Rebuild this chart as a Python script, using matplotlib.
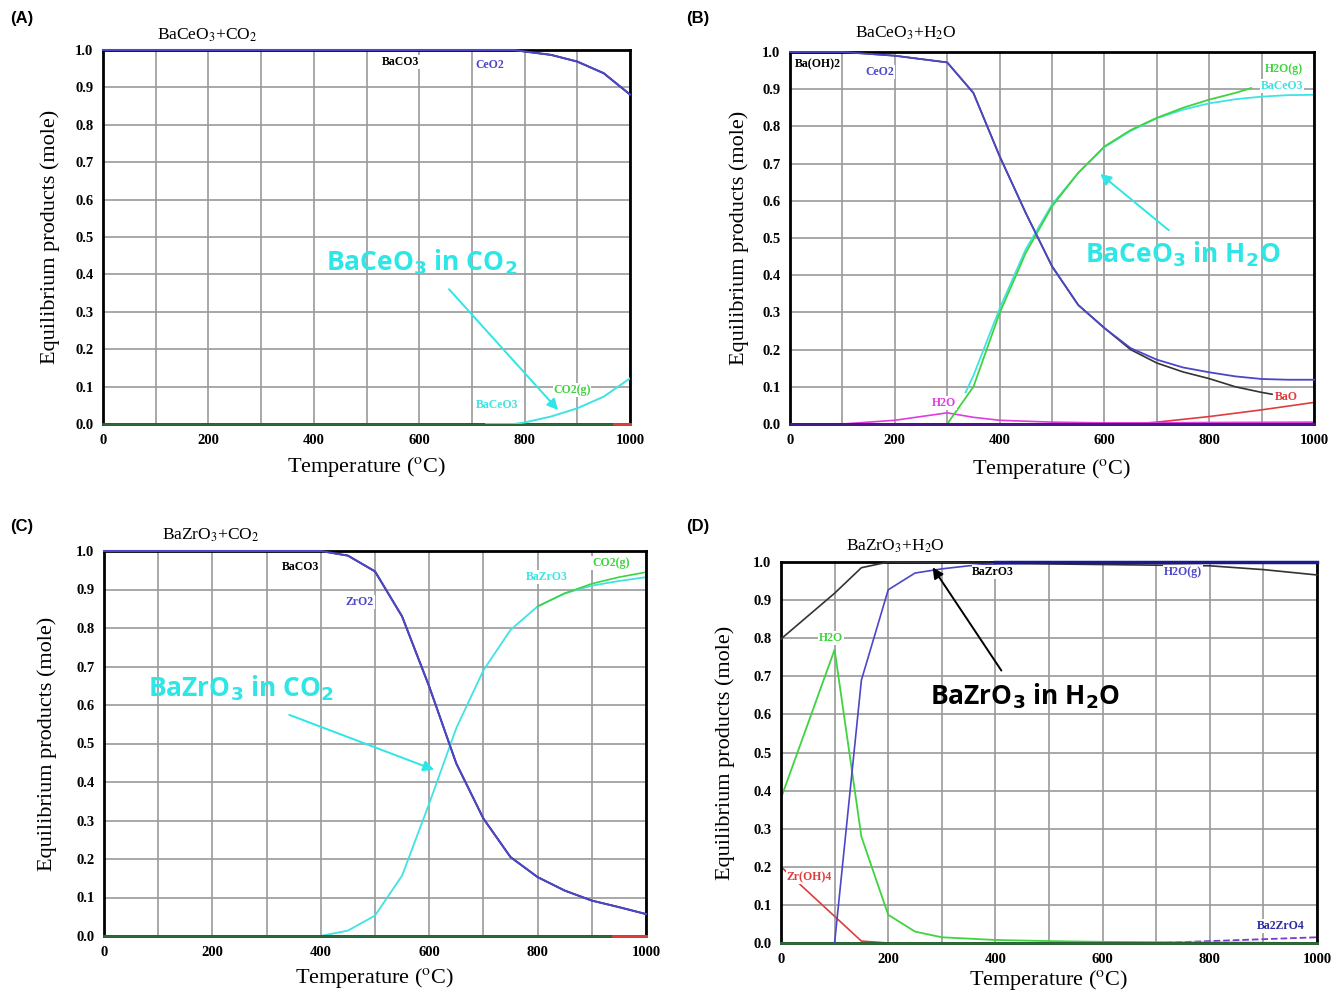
import matplotlib
matplotlib.use("Agg")
import matplotlib.pyplot as plt

plt.rcParams['font.family'] = 'Liberation Serif'

BLUE = '#4c46c8'
CYAN = '#3fe3e3'
GREEN = '#3fd43f'
RED = '#e03c3c'
MAG = '#e03ce0'
BASE = '#2e6b3a'
NOTE = '#2ee6e6'

# (A) BaCeO3 + CO2
a_ceo2_T = [0, 700, 780, 800, 850, 900, 950, 1000]
a_ceo2 = [1.0, 1.0, 1.0, 0.996, 0.987, 0.969, 0.938, 0.881]
a_baceo3_T = [727, 780, 800, 850, 900, 950, 1000]
a_baceo3 = [0.0, 0.0, 0.004, 0.02, 0.042, 0.073, 0.122]
a_red_T = [970, 1000]

# (B) BaCeO3 + H2O
b_ceo2_T = [0, 100, 200, 300, 350, 400, 450, 500, 550, 600, 650, 700, 750, 800, 850, 900, 950, 1000]
b_ceo2 = [1.0, 1.0, 0.99, 0.972, 0.89, 0.72, 0.567, 0.424, 0.32, 0.258, 0.204, 0.173, 0.152, 0.139, 0.128, 0.121, 0.119, 0.119]
b_baoh_T = [0, 100, 200, 300, 350, 400, 450, 500, 550, 600, 650, 700, 750, 800, 850, 900, 920]
b_baoh = [1.0, 1.0, 0.99, 0.972, 0.89, 0.72, 0.567, 0.424, 0.32, 0.258, 0.2, 0.164, 0.14, 0.122, 0.1, 0.085, 0.08]
b_h2og_T = [300, 350, 400, 450, 500, 550, 600, 650, 700, 750, 800, 850, 880]
b_h2og = [0.0, 0.1, 0.298, 0.46, 0.585, 0.675, 0.746, 0.79, 0.823, 0.85, 0.872, 0.89, 0.903]
b_baceo3_T = [335, 350, 400, 450, 500, 550, 600, 650, 700, 750, 800, 850, 900, 950, 1000]
b_baceo3 = [0.085, 0.13, 0.31, 0.47, 0.59, 0.675, 0.744, 0.788, 0.822, 0.845, 0.862, 0.873, 0.88, 0.884, 0.885]
b_h2o_T = [100, 200, 300, 350, 400, 500, 600, 700, 800, 1000]
b_h2o = [0.0, 0.01, 0.03, 0.018, 0.01, 0.005, 0.003, 0.003, 0.004, 0.005]
b_bao_T = [650, 700, 800, 900, 1000]
b_bao = [0.0, 0.005, 0.02, 0.038, 0.058]

# (C) BaZrO3 + CO2
c_zro2_T = [0, 400, 450, 500, 550, 600, 650, 700, 750, 800, 850, 900, 950, 1000]
c_zro2 = [1.0, 1.0, 0.988, 0.947, 0.83, 0.648, 0.448, 0.305, 0.205, 0.153, 0.118, 0.092, 0.075, 0.057]
c_bazro3_T = [400, 450, 500, 550, 600, 650, 700, 750, 800, 850, 900, 950, 1000]
c_bazro3 = [0.0, 0.014, 0.053, 0.157, 0.344, 0.54, 0.69, 0.795, 0.856, 0.89, 0.91, 0.922, 0.932]
c_co2g_T = [800, 850, 900, 950, 1000]
c_co2g = [0.856, 0.89, 0.915, 0.932, 0.945]
c_red_T = [940, 1000]

# (D) BaZrO3 + H2O
d_bazro3_T = [0, 100, 150, 200, 800, 900, 1000]
d_bazro3 = [0.798, 0.918, 0.985, 1.0, 0.99, 0.98, 0.966]
d_h2og_T = [100, 150, 200, 250, 300, 350, 400, 500, 1000]
d_h2og = [0.0, 0.69, 0.927, 0.971, 0.982, 0.99, 0.995, 0.998, 1.0]
d_h2o_T = [0, 100, 150, 200, 250, 300, 400, 500, 600, 1000]
d_h2o = [0.38, 0.77, 0.279, 0.074, 0.03, 0.015, 0.008, 0.005, 0.003, 0.0]
d_zroh_T = [0, 150, 200]
d_zroh = [0.2, 0.005, 0.0]
d_ba2zro4_T = [700, 800, 900, 1000]
d_ba2zro4 = [0.0, 0.005, 0.01, 0.015]

W, H = 1335, 993
fig = plt.figure(figsize=(W / 100, H / 100), dpi=100)


def px_axes(x0, x1, ytop, ybot):
    return fig.add_axes([x0 / W, 1 - ybot / H, (x1 - x0) / W, (ybot - ytop) / H])


def setup(ax, ylab_x, xlab_y):
    ax.set_xlim(0, 1000)
    ax.set_ylim(0, 1.0)
    ax.set_xticks(range(0, 1001, 100))
    ax.set_xticklabels([str(v) if v % 200 == 0 else '' for v in range(0, 1001, 100)])
    ax.set_yticks([i / 10 for i in range(11)])
    ax.set_yticklabels(['%.1f' % (i / 10) for i in range(11)])
    ax.grid(True, color='#9a9a9a', lw=1.2)
    ax.set_axisbelow(True)
    ax.tick_params(length=0, pad=7, labelsize=10.5)
    for t in ax.get_xticklabels() + ax.get_yticklabels():
        t.set_fontweight('bold')
    for s in ax.spines.values():
        s.set_linewidth(2)
    ax.set_ylabel('Equilibrium products (mole)', fontsize=16)
    ax.set_xlabel(r'Temperature ($^{\rm o}$C)', fontsize=16, math_fontfamily='stix')
    ax.yaxis.set_label_coords(ylab_x, 0.5)
    ax.xaxis.set_label_coords(0.5, xlab_y)


def lab(ax, x, y, s, c):
    ax.text(x, y, s, color=c, fontsize=8.5, fontweight='bold', ha='center', va='center',
            bbox=dict(fc='white', ec='none', pad=0.5), zorder=5)


def note(ax, txt, xy_text, xy_tail, xy_head, c, fam='Open Sans'):
    ax.text(xy_text[0], xy_text[1], txt, color=c, fontsize=19, fontfamily=fam,
            fontweight='bold', ha='center', va='center', math_fontfamily='dejavusans', zorder=6)
    ax.annotate('', xy=xy_head, xytext=xy_tail,
                arrowprops=dict(arrowstyle='-|>', color=c, lw=1.4, mutation_scale=16), zorder=6)


# ---- (A)
ax = px_axes(103, 630, 50, 424)
setup(ax, -0.082, -0.083)
ax.plot([0, 1000], [0, 0], color=BASE, lw=2, clip_on=False, zorder=4)
ax.plot(a_red_T, [0, 0], color=RED, lw=2, clip_on=False, zorder=4)
ax.plot(a_ceo2_T, a_ceo2, color='black', lw=1.2)
ax.plot(a_ceo2_T, a_ceo2, color=BLUE, lw=1.5, clip_on=False, zorder=4)
ax.plot(a_baceo3_T, a_baceo3, color=CYAN, lw=1.4, zorder=4)
lab(ax, 564, 0.968, 'BaCO3', 'black')
lab(ax, 734, 0.96, 'CeO2', BLUE)
lab(ax, 890, 0.091, 'CO2(g)', GREEN)
lab(ax, 748, 0.051, 'BaCeO3', CYAN)
note(ax, r'BaCeO$_\mathbf{3}$ in CO$_\mathbf{2}$', (605, 0.433), (653, 0.366), (867, 0.032), NOTE)
fig.text(157 / W, 1 - 35 / H, r'BaCeO$_3$+CO$_2$', fontsize=12.5, va='center', math_fontfamily='stix')
fig.text(10 / W, 1 - 18 / H, '(A)', fontsize=12, fontweight='bold', fontfamily='Liberation Sans', va='center')

# ---- (B)
ax = px_axes(790, 1314, 52, 424)
setup(ax, -0.078, -0.088)
ax.plot([0, 1000], [0, 0], color='#4a1a8a', lw=2, clip_on=False, zorder=4)
ax.plot(b_bao_T, b_bao, color=RED, lw=1.2)
ax.plot(b_h2o_T, b_h2o, color=MAG, lw=1.2)
ax.plot(b_baoh_T, b_baoh, color='#333333', lw=1.2)
ax.plot(b_ceo2_T, b_ceo2, color=BLUE, lw=1.3, clip_on=False, zorder=4)
ax.plot(b_baceo3_T, b_baceo3, color=CYAN, lw=1.3)
ax.plot(b_h2og_T, b_h2og, color=GREEN, lw=1.3)
lab(ax, 53, 0.968, 'Ba(OH)2', 'black')
lab(ax, 172, 0.946, 'CeO2', BLUE)
lab(ax, 943, 0.954, 'H2O(g)', GREEN)
lab(ax, 939, 0.909, 'BaCeO3', CYAN)
lab(ax, 294, 0.056, 'H2O', MAG)
lab(ax, 947, 0.073, 'BaO', RED)
note(ax, r'BaCeO$_\mathbf{3}$ in H$_\mathbf{2}$O', (750, 0.457), (727, 0.516), (588, 0.677), NOTE)
fig.text(855 / W, 1 - 33 / H, r'BaCeO$_3$+H$_2$O', fontsize=12.5, va='center', math_fontfamily='stix')
fig.text(686 / W, 1 - 18 / H, '(B)', fontsize=12, fontweight='bold', fontfamily='Liberation Sans', va='center')

# ---- (C)
ax = px_axes(104, 646, 551, 936)
setup(ax, -0.086, -0.078)
ax.plot([0, 1000], [0, 0], color=BASE, lw=2, clip_on=False, zorder=4)
ax.plot(c_red_T, [0, 0], color=RED, lw=2, clip_on=False, zorder=4)
ax.plot(c_zro2_T, c_zro2, color='black', lw=1.2)
ax.plot(c_zro2_T, c_zro2, color=BLUE, lw=1.5, clip_on=False, zorder=4)
ax.plot(c_bazro3_T, c_bazro3, color=CYAN, lw=1.3)
ax.plot(c_co2g_T, c_co2g, color=GREEN, lw=1.2)
lab(ax, 362, 0.958, 'BaCO3', 'black')
lab(ax, 472, 0.868, 'ZrO2', BLUE)
lab(ax, 817, 0.932, 'BaZrO3', CYAN)
lab(ax, 935, 0.969, 'CO2(g)', GREEN)
note(ax, r'BaZrO$_\mathbf{3}$ in CO$_\mathbf{2}$', (253, 0.644), (337, 0.577), (614, 0.429), NOTE)
fig.text(162 / W, 1 - 535 / H, r'BaZrO$_3$+CO$_2$', fontsize=12.5, va='center', math_fontfamily='stix')
fig.text(10 / W, 1 - 527 / H, '(C)', fontsize=12, fontweight='bold', fontfamily='Liberation Sans', va='center')

# ---- (D)
ax = px_axes(781, 1317, 562, 943)
setup(ax, -0.086, -0.066)
ax.plot([0, 1000], [0, 0], color=BASE, lw=2, clip_on=False, zorder=4)
ax.plot(d_ba2zro4_T, d_ba2zro4, color='#7a3ad0', lw=1.3, ls='--')
ax.plot(d_zroh_T, d_zroh, color=RED, lw=1.2)
ax.plot(d_h2o_T, d_h2o, color=GREEN, lw=1.3)
ax.plot(d_bazro3_T, d_bazro3, color='#333333', lw=1.2, clip_on=False, zorder=4)
ax.plot(d_h2og_T, d_h2og, color=BLUE, lw=1.2, clip_on=False, zorder=4)
ax.plot([400, 1000], [1.0, 1.0], color='#1a1a8a', lw=2.5, clip_on=False, zorder=4)
lab(ax, 396, 0.974, 'BaZrO3', 'black')
lab(ax, 750, 0.974, 'H2O(g)', BLUE)
lab(ax, 93, 0.80, 'H2O', GREEN)
lab(ax, 52, 0.173, 'Zr(OH)4', RED)
lab(ax, 933, 0.045, 'Ba2ZrO4', '#2a2aa0')
note(ax, r'BaZrO$_\mathbf{3}$ in H$_\mathbf{2}$O', (455, 0.648), (414, 0.709), (280, 0.992), 'black')
fig.text(846 / W, 1 - 546 / H, r'BaZrO$_3$+H$_2$O', fontsize=12.5, va='center', math_fontfamily='stix')
fig.text(686 / W, 1 - 527 / H, '(D)', fontsize=12, fontweight='bold', fontfamily='Liberation Sans', va='center')

fig.savefig('out.png', dpi=100, facecolor='white')
